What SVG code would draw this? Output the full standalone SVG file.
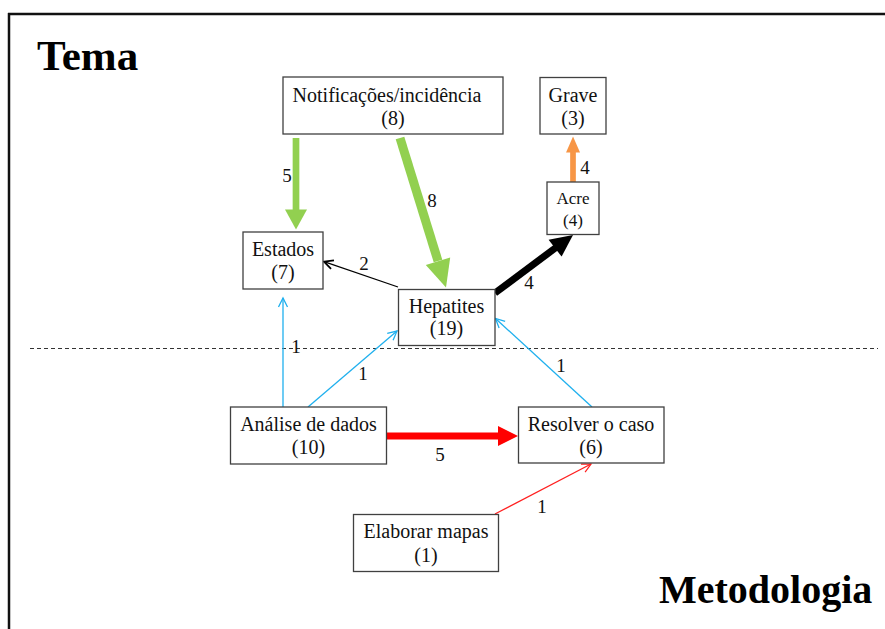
<svg xmlns="http://www.w3.org/2000/svg" width="885" height="629" viewBox="0 0 885 629">
<defs>
<style>
.box{fill:#fff;stroke:#404040;stroke-width:1.3}
.t{font-family:"Liberation Serif","Times New Roman",serif;font-size:20px;fill:#111;text-anchor:middle}
.s{font-size:17px}
.lbl{font-family:"Liberation Serif","Times New Roman",serif;font-size:19px;fill:#111;text-anchor:middle}
.title{font-family:"Liberation Serif","Times New Roman",serif;font-size:40px;font-weight:bold;fill:#000}
.thin{fill:none;stroke-width:1.3}
</style>
<marker id="mBlue" markerUnits="userSpaceOnUse" markerWidth="12" markerHeight="12" refX="9" refY="4.5" orient="auto" overflow="visible">
<path d="M0,0 L9,4.5 L0,9" fill="none" stroke="#1FB0EE" stroke-width="1.3"/>
</marker>
<marker id="mBlack" markerUnits="userSpaceOnUse" markerWidth="12" markerHeight="12" refX="9" refY="4.5" orient="auto" overflow="visible">
<path d="M0,0 L9,4.5 L0,9" fill="none" stroke="#000" stroke-width="1.8"/>
</marker>
<marker id="mRed" markerUnits="userSpaceOnUse" markerWidth="12" markerHeight="12" refX="9" refY="4.5" orient="auto" overflow="visible">
<path d="M0,0 L9,4.5 L0,9" fill="none" stroke="#FF2020" stroke-width="1.2"/>
</marker>
</defs>
<rect x="0" y="0" width="885" height="629" fill="#fff"/>
<g id="frame">
<line x1="8" y1="14" x2="885" y2="14" stroke="#111" stroke-width="2.5"/>
<line x1="9" y1="13" x2="9" y2="629" stroke="#111" stroke-width="2.5"/>
<line x1="30" y1="348.5" x2="878" y2="348.5" stroke="#333" stroke-width="1" stroke-dasharray="4 3"/>
</g>
<text class="title" x="37" y="70" style="font-size:43px">Tema</text>
<text class="title" x="659" y="603">Metodologia</text>
<g id="connectors">
<!-- green 5 -->
<line x1="296" y1="138" x2="296" y2="210" stroke="#92D050" stroke-width="6.7"/>
<polygon points="285,209.5 307,209.5 296,229.5" fill="#92D050"/>
<text class="lbl" x="287" y="182">5</text>
<!-- green 8 -->
<line x1="400" y1="138" x2="438" y2="261" stroke="#92D050" stroke-width="9"/>
<polygon points="425.8,265 450.2,257.5 446,287.5" fill="#92D050"/>
<text class="lbl" x="432" y="207">8</text>
<!-- black 2 -->
<line class="thin" x1="398" y1="287" x2="324" y2="261.7" stroke="#000" stroke-width="1.8" marker-end="url(#mBlack)"/>
<text class="lbl" x="364" y="270">2</text>
<!-- black thick 4 -->
<line x1="495" y1="293" x2="556" y2="247.5" stroke="#000" stroke-width="7"/>
<polygon points="548.6,239.8 561.6,256.6 573,235" fill="#000"/>
<text class="lbl" x="529" y="289">4</text>
<!-- orange 4 -->
<line x1="573" y1="182" x2="573" y2="152" stroke="#F79646" stroke-width="5.7"/>
<polygon points="566,152.5 580,152.5 573,136.5" fill="#F79646"/>
<text class="lbl" x="585" y="174">4</text>
<!-- blue -->
<line class="thin" x1="283" y1="407" x2="283" y2="298" stroke="#1FB0EE" marker-end="url(#mBlue)"/>
<text class="lbl" x="296" y="353">1</text>
<line class="thin" x1="308" y1="407" x2="397" y2="331" stroke="#1FB0EE" marker-end="url(#mBlue)"/>
<text class="lbl" x="363" y="380">1</text>
<line class="thin" x1="592" y1="407" x2="495.5" y2="318.5" stroke="#1FB0EE" marker-end="url(#mBlue)"/>
<text class="lbl" x="561" y="372">1</text>
<!-- red thick 5 -->
<line x1="387" y1="436" x2="499" y2="436" stroke="#FF0000" stroke-width="7"/>
<polygon points="498,426 498,446 518,436" fill="#FF0000"/>
<text class="lbl" x="440" y="461">5</text>
<!-- red thin 1 -->
<line class="thin" x1="495" y1="514" x2="591" y2="464" stroke="#FF2020" stroke-width="1.2" marker-end="url(#mRed)"/>
<text class="lbl" x="542" y="513">1</text>
</g>
<g id="notificacoes">
<rect class="box" x="283" y="77" width="220" height="57"/>
<text class="t" x="387" y="102">Notificações/incidência</text>
<text class="t" x="393" y="125">(8)</text>
</g>
<g id="grave">
<rect class="box" x="540" y="77.5" width="66" height="56.5"/>
<text class="t" x="573" y="102">Grave</text>
<text class="t" x="573" y="125">(3)</text>
</g>
<g id="acre">
<rect class="box" x="547" y="182" width="52" height="52.5"/>
<text class="t s" x="573" y="203.5">Acre</text>
<text class="t s" x="573" y="225.5">(4)</text>
</g>
<g id="estados">
<rect class="box" x="243" y="232" width="80" height="57"/>
<text class="t" x="283" y="255.5">Estados</text>
<text class="t" x="283" y="278.5">(7)</text>
</g>
<g id="hepatites">
<rect class="box" x="398.5" y="289.5" width="96.5" height="56"/>
<text class="t" x="446.5" y="312.5">Hepatites</text>
<text class="t" x="446.5" y="335">(19)</text>
</g>
<g id="analise">
<rect class="box" x="230.5" y="407" width="156" height="57"/>
<text class="t" x="308.5" y="430.5">Análise de dados</text>
<text class="t" x="308.5" y="454">(10)</text>
</g>
<g id="resolver">
<rect class="box" x="518.5" y="407" width="145.5" height="56"/>
<text class="t" x="591" y="430.5">Resolver o caso</text>
<text class="t" x="591" y="454">(6)</text>
</g>
<g id="elaborar">
<rect class="box" x="353.5" y="514.5" width="145" height="57"/>
<text class="t" x="426" y="538">Elaborar mapas</text>
<text class="t" x="426" y="561.5">(1)</text>
</g>
</svg>
